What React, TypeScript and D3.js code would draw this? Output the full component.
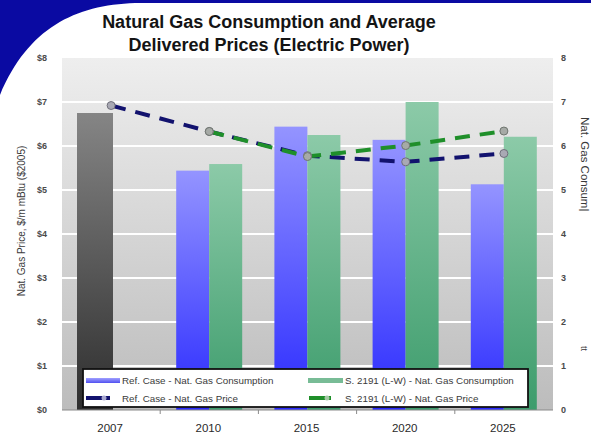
import React from "react";
import * as d3 from "d3";

const years = ["2007", "2010", "2015", "2020", "2025"];
const refConsumption = [6.75, 5.44, 6.44, 6.14, 5.13];
const altConsumption: (number | null)[] = [null, 5.59, 6.25, 7.0, 6.21];
const refPrice = [6.92, 6.33, 5.78, 5.64, 5.83];
const altPrice: (number | null)[] = [null, 6.33, 5.76, 6.01, 6.34];
const leftTicks = [0, 1, 2, 3, 4, 5, 6, 7, 8];
const rightTicks = [0, 1, 2, 3, 4, 5, 6, 7, 8];
const historicalYear = "2007";

const W = 591;
const H = 435;
const M = { left: 62, right: 553, top: 58, bottom: 410 };
const FONT = "'Liberation Sans', Arial, Helvetica, sans-serif";

export default function App() {
  const x = d3.scaleBand<string>().domain(years).range([M.left, M.right]).paddingInner(0).paddingOuter(0);
  const inner = d3.scaleBand<string>().domain(["ref", "alt"]).range([16, 82]).padding(0);
  const y = d3.scaleLinear().domain([0, 8]).range([M.bottom, M.top]);
  const yR = d3.scaleLinear().domain([0, 8]).range([M.bottom, M.top]);

  const cx = (yr: string) => (x(yr) as number) + x.bandwidth() / 2;

  const refPts = years.map((yr, i) => ({ yr, v: refPrice[i] }));
  const altPts = years.map((yr, i) => ({ yr, v: altPrice[i] })).filter((d) => d.v != null) as { yr: string; v: number }[];

  const line = d3
    .line<{ yr: string; v: number }>()
    .x((d) => cx(d.yr))
    .y((d) => y(d.v));

  const bandBoundaries = years.slice(1).map((yr) => x(yr) as number);

  return (
    <svg
      width={W}
      height={H}
      style={{ position: "absolute", left: 0, top: 0, background: "#ffffff" }}
      fontFamily={FONT}
    >
      <defs>
        <linearGradient id="bg" x1="0" y1="0" x2="0" y2="1">
          <stop offset="0" stopColor="#eeeeee" />
          <stop offset="1" stopColor="#bcbcbc" />
        </linearGradient>
        <linearGradient id="gBlue" x1="0" y1="0" x2="0" y2="1">
          <stop offset="0" stopColor="#9494ff" />
          <stop offset="1" stopColor="#2a2aff" />
        </linearGradient>
        <linearGradient id="gGreen" x1="0" y1="0" x2="0" y2="1">
          <stop offset="0" stopColor="#8ccaa8" />
          <stop offset="1" stopColor="#3d9c6c" />
        </linearGradient>
        <linearGradient id="gGray" x1="0" y1="0" x2="0" y2="1">
          <stop offset="0" stopColor="#858585" />
          <stop offset="1" stopColor="#2e2e2e" />
        </linearGradient>
        <linearGradient id="gBlueH" x1="0" y1="0" x2="0" y2="1">
          <stop offset="0" stopColor="#a0a0ff" />
          <stop offset="1" stopColor="#5050f0" />
        </linearGradient>
      </defs>

      {/* slide decoration */}
      <path d={`M0,0 H${W} V3 H135 C75,5 28,28 0,95 Z`} fill="#0a0aa2" />

      {/* title */}
      <text x={269} y={28} textAnchor="middle" fontSize={18} fontWeight="bold" fill="#141414">
        Natural Gas Consumption and Average
      </text>
      <text x={269} y={51} textAnchor="middle" fontSize={18} fontWeight="bold" fill="#141414">
        Delivered Prices (Electric Power)
      </text>

      {/* plot background */}
      <rect x={M.left} y={M.top} width={M.right - M.left} height={M.bottom - M.top} fill="url(#bg)" />
      {leftTicks
        .filter((t) => t > 0 && t < 8)
        .map((t) => (
          <line key={t} x1={M.left} x2={M.right} y1={y(t)} y2={y(t)} stroke="#ffffff" strokeWidth={2} />
        ))}

      {/* bars */}
      {years.map((yr, i) => {
        const x0 = x(yr) as number;
        const hist = yr === historicalYear;
        const rv = refConsumption[i];
        const av = altConsumption[i];
        return (
          <g key={yr}>
            <rect
              x={x0 + (inner("ref") as number) - (hist ? 1 : 0)}
              y={y(rv)}
              width={inner.bandwidth() + (hist ? 3 : 0)}
              height={y(0) - y(rv)}
              fill={hist ? "url(#gGray)" : "url(#gBlue)"}
            />
            {av != null && (
              <rect
                x={x0 + (inner("alt") as number)}
                y={y(av)}
                width={inner.bandwidth()}
                height={y(0) - y(av)}
                fill="url(#gGreen)"
              />
            )}
          </g>
        );
      })}

      {/* bottom axis */}
      <line x1={M.left} x2={M.right} y1={M.bottom} y2={M.bottom} stroke="#8a8a8a" strokeWidth={1} />
      {bandBoundaries.map((bx, i) => (
        <line key={i} x1={bx} x2={bx} y1={M.bottom} y2={M.bottom + 4} stroke="#8a8a8a" strokeWidth={1} />
      ))}

      {/* price lines */}
      <path d={line(refPts) || ""} fill="none" stroke="#12126e" strokeWidth={4} strokeDasharray="15,10" />
      <path d={line(altPts) || ""} fill="none" stroke="#1f8f2a" strokeWidth={4} strokeDasharray="15,10" />
      {refPts.map((d) => (
        <circle key={"r" + d.yr} cx={cx(d.yr)} cy={y(d.v)} r={4} fill="#a9a9b4" stroke="#6f6f7a" strokeWidth={1} />
      ))}
      {altPts.map((d) => (
        <circle key={"a" + d.yr} cx={cx(d.yr)} cy={y(d.v)} r={4} fill="#a6aaa6" stroke="#6f756f" strokeWidth={1} />
      ))}

      {/* left ticks */}
      {leftTicks.map((t) => (
        <text key={t} x={47} y={y(t) + 3} textAnchor="end" fontSize={9} fontWeight="bold" fill="#4a4a4a">
          {"$" + t}
        </text>
      ))}
      {/* right ticks */}
      {rightTicks.map((t) => (
        <text key={t} x={561} y={yR(t) + 3} textAnchor="start" fontSize={9} fontWeight="bold" fill="#4a4a4a">
          {t}
        </text>
      ))}

      {/* x labels */}
      {years.map((yr) => (
        <text key={yr} x={cx(yr) - 1} y={432} textAnchor="middle" fontSize={11.5} fill="#2a2a2a">
          {yr}
        </text>
      ))}

      {/* axis titles */}
      <text
        transform={`translate(25,221) rotate(-90)`}
        textAnchor="middle"
        fontSize={10}
        fill="#3a3a3a"
      >
        Nat. Gas Price, $/m mBtu ($2005)
      </text>
      <text transform={`translate(581,117) rotate(90)`} textAnchor="start" fontSize={11.5} fill="#3a3a3a">
        Nat. Gas Consum|
      </text>
      <text transform={`translate(581,346) rotate(90)`} textAnchor="start" fontSize={9} fill="#3a3a3a">
        tt
      </text>

      {/* legend */}
      <rect x={83} y={369} width={445} height={38} fill="#ffffff" stroke="#111111" strokeWidth={1.8} />
      <rect x={86} y={378} width={34} height={5} fill="url(#gBlueH)" />
      <text x={122} y={384} fontSize={9.8} fill="#3a3a3a">
        Ref. Case - Nat. Gas Consumption
      </text>
      <rect x={308} y={378} width={35} height={5} fill="#78bc96" />
      <text x={345} y={384} fontSize={9.8} fill="#3a3a3a">
        S. 2191 (L-W) - Nat. Gas Consumption
      </text>
      <line x1={86} x2={110} y1={398} y2={398} stroke="#12126e" strokeWidth={4} />
      <circle cx={104} cy={398} r={2.5} fill="#a9a9d0" />
      <text x={122} y={402} fontSize={9.8} fill="#3a3a3a">
        Ref. Case - Nat. Gas Price
      </text>
      <line x1={309} x2={331} y1={398} y2={398} stroke="#1f8f2a" strokeWidth={4} />
      <circle cx={327} cy={398} r={2.5} fill="#a6caa6" />
      <text x={345} y={402} fontSize={9.8} fill="#3a3a3a">
        S. 2191 (L-W) - Nat. Gas Price
      </text>
    </svg>
  );
}
